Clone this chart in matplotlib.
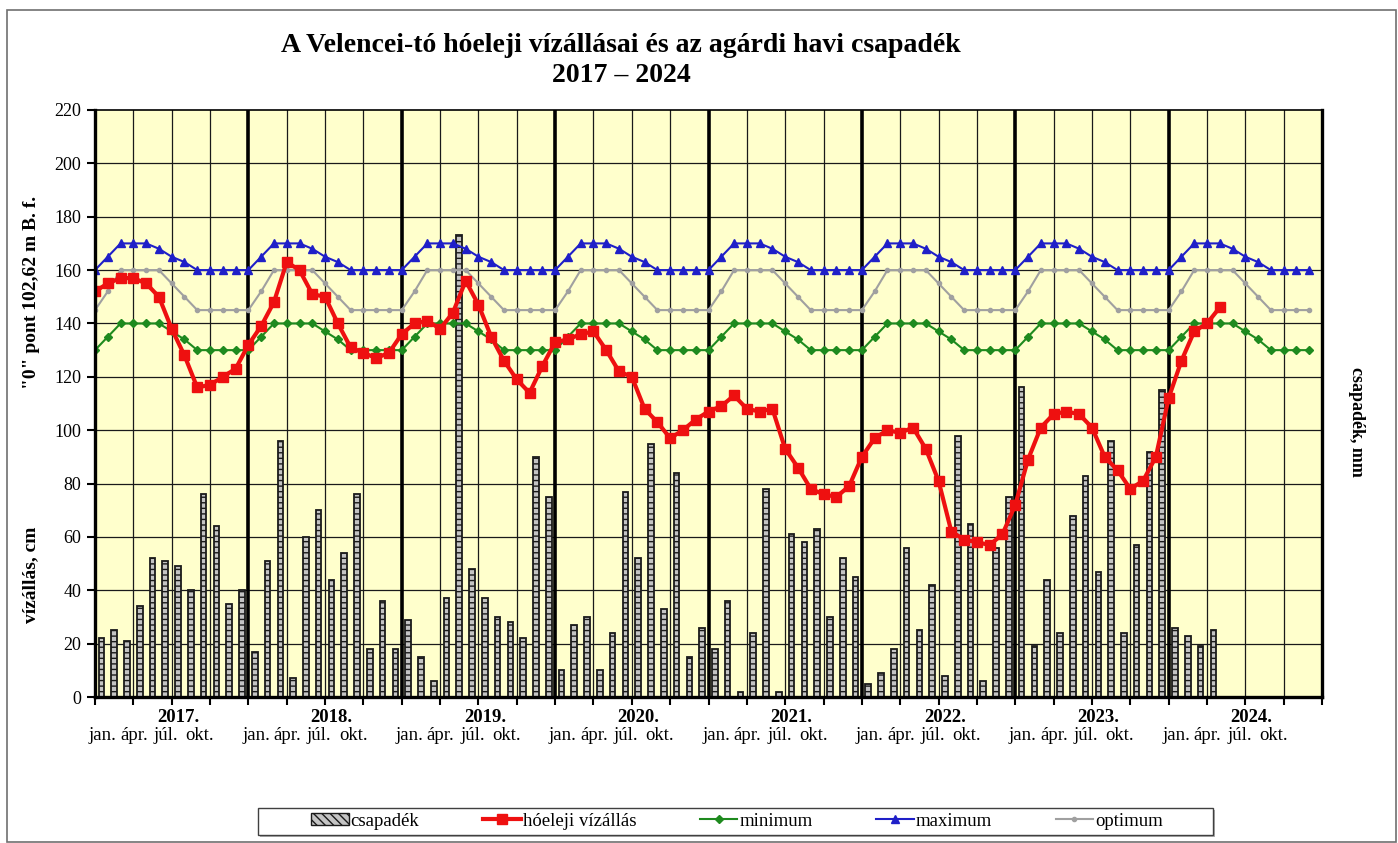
import matplotlib
matplotlib.use('Agg')
import matplotlib.pyplot as plt
import numpy as np
from matplotlib.patches import Patch, Rectangle
from matplotlib.lines import Line2D

# =============================================================================
# 1. DATA
# =============================================================================
years = ["2017.", "2018.", "2019.", "2020.", "2021.", "2022.", "2023.", "2024."]
month_labels = ["jan.", "ápr.", "júl.", "okt."]

# end-of-month lake level, cm (Jan 2017 - May 2024)
vizallas = [
    152, 155, 157, 157, 155, 150, 138, 128, 116, 117, 120, 123,   # 2017
    132, 139, 148, 163, 160, 151, 150, 140, 131, 129, 127, 129,   # 2018
    136, 140, 141, 138, 144, 156, 147, 135, 126, 119, 114, 124,   # 2019
    133, 134, 136, 137, 130, 122, 120, 108, 103, 97, 100, 104,    # 2020
    107, 109, 113, 108, 107, 108, 93, 86, 78, 76, 75, 79,         # 2021
    90, 97, 100, 99, 101, 93, 81, 62, 59, 58, 57, 61,             # 2022
    72, 89, 101, 106, 107, 106, 101, 90, 85, 78, 81, 90,          # 2023
    112, 126, 137, 140, 146,                                      # 2024
]

# monthly precipitation at Agárd, mm (Jan 2017 - Apr 2024)
csapadek = [
    22, 25, 21, 34, 52, 51, 49, 40, 76, 64, 35, 40,     # 2017
    17, 51, 96, 7, 60, 70, 44, 54, 76, 18, 36, 18,      # 2018
    29, 15, 6, 37, 173, 48, 37, 30, 28, 22, 90, 75,     # 2019
    10, 27, 30, 10, 24, 77, 52, 95, 33, 84, 15, 26,     # 2020
    18, 36, 2, 24, 78, 2, 61, 58, 63, 30, 52, 45,       # 2021
    5, 9, 18, 56, 25, 42, 8, 98, 65, 6, 56, 75,        # 2022
    116, 19, 44, 24, 68, 83, 47, 96, 24, 57, 92, 115,   # 2023
    26, 23, 19, 25,                                     # 2024
]

# regulation levels, same every year (Jan..Dec)
minimum_year = [130, 135, 140, 140, 140, 140, 137, 134, 130, 130, 130, 130]
maximum_year = [160, 165, 170, 170, 170, 168, 165, 163, 160, 160, 160, 160]
optimum_year = [145, 152, 160, 160, 160, 160, 155, 150, 145, 145, 145, 145]

minimum = np.tile(minimum_year, len(years))
maximum = np.tile(maximum_year, len(years))
optimum = np.tile(optimum_year, len(years))

# =============================================================================
# 2. PLOT
# =============================================================================
SERIF = "Liberation Serif"
BG = "#FFFFCC"
W, H = 1398, 843
n_months = 12 * len(years)

fig = plt.figure(figsize=(W / 100, H / 100), dpi=100)

# outer frame of the picture
fig.patches.append(Rectangle((7 / W, 1 / H), 1389 / W, 832 / H,
                             transform=fig.transFigure, fill=False,
                             edgecolor="#707070", linewidth=1.2))

ax = fig.add_axes([95 / W, 1 - 697 / H, 1227 / W, 587 / H])
ax.set_facecolor(BG)

# grid
for v in range(20, 220, 20):
    ax.axhline(v, color="#1A1A1A", linewidth=0.9, zorder=1)
for m in range(3, n_months, 3):
    lw = 2.6 if m % 12 == 0 else 0.9
    ax.axvline(m, color="#1A1A1A" if m % 12 else "black", linewidth=lw, zorder=1)

# bars (between the month positions)
xb = np.arange(len(csapadek)) + 0.5
ax.bar(xb, csapadek, width=0.44, facecolor="#C4C4C4", edgecolor="#1A1A1A",
       hatch="---", linewidth=1.3, zorder=2)

# lines (on the month positions)
xl = np.arange(n_months)
ax.plot(xl, optimum, color="#A0A0A0", linewidth=1.5, marker="o",
        markersize=3, zorder=3)
ax.plot(xl, minimum, color="#1E8A1E", linewidth=1.5, marker="D",
        markersize=4.5, zorder=3)
ax.plot(xl, maximum, color="#1F1FC8", linewidth=1.5, marker="^",
        markersize=6, zorder=3)
ax.plot(np.arange(len(vizallas)), vizallas, color="#EE1010", linewidth=3,
        marker="s", markersize=6.5, zorder=4)

ax.set_xlim(0, n_months)
ax.set_ylim(0, 220)

# axis styling
for side in ["left", "bottom", "right", "top"]:
    ax.spines[side].set_linewidth(2.4 if side != "top" else 1.2)
    ax.spines[side].set_zorder(5)

ax.set_yticks(range(0, 221, 20))
ax.tick_params(axis="y", direction="out", length=6, width=1.5, pad=4,
               labelsize=13)
for lab in ax.get_yticklabels():
    lab.set_fontfamily(SERIF)

ax.set_xticks(range(0, n_months + 1, 3))
ax.set_xticklabels([])
ax.tick_params(axis="x", direction="out", length=6, width=1.5)

# year and month labels under the axis
month_offsets = [0.6, 3.05, 5.55, 8.2]
for i, yr in enumerate(years):
    ax.text(12 * i + 6.5, -7.5, yr, ha="center", va="center",
            fontsize=13.5, fontweight="bold", family=SERIF, clip_on=False)
    for off, ml in zip(month_offsets, month_labels):
        ax.text(12 * i + off, -14.5, ml, ha="center", va="center",
                fontsize=13.5, family=SERIF, clip_on=False)

# title
fig.text(621 / W, 1 - 45 / H,
         "A Velencei-tó hóeleji vízállásai és az agárdi havi csapadék",
         ha="center", va="center", fontsize=20, fontweight="bold", family=SERIF)
fig.text(621 / W, 1 - 76 / H, "2017 – 2024",
         ha="center", va="center", fontsize=20, fontweight="bold", family=SERIF)

# axis titles
fig.text(31 / W, 1 - 575 / H, "vízállás, cm", rotation=90,
         ha="center", va="center", fontsize=14, fontweight="bold", family=SERIF)
fig.text(31 / W, 1 - 292 / H, "\"0\" pont 102,62 m B. f.", rotation=90,
         ha="center", va="center", fontsize=14, fontweight="bold", family=SERIF)
fig.text(1357 / W, 1 - 422 / H, "csapadék, mm", rotation=270,
         ha="center", va="center", fontsize=13, fontweight="bold", family=SERIF)

# legend box (drawn by hand, with a small shadow like the original)
fig.patches.append(Rectangle((260 / W, 1 - 837 / H), 955 / W, 27 / H,
                             transform=fig.transFigure, facecolor="#B0B0B0",
                             edgecolor="none"))
fig.patches.append(Rectangle((258 / W, 1 - 835 / H), 955 / W, 27 / H,
                             transform=fig.transFigure, facecolor="white",
                             edgecolor="#404040", linewidth=1.0))

legend_elements = [
    Patch(facecolor="#C4C4C4", edgecolor="#1A1A1A", hatch="\\\\\\\\",
          label="csapadék"),
    Line2D([0], [0], color="#EE1010", linewidth=3, marker="s", markersize=6.5,
           label="hóeleji vízállás"),
    Line2D([0], [0], color="#1E8A1E", linewidth=1.5, marker="D",
           markersize=4.5, label="minimum"),
    Line2D([0], [0], color="#1F1FC8", linewidth=1.5, marker="^",
           markersize=6, label="maximum"),
    Line2D([0], [0], color="#A0A0A0", linewidth=1.5, marker="o",
           markersize=3, label="optimum"),
]
leg = fig.legend(handles=legend_elements, loc="center", ncol=5,
                 bbox_to_anchor=(737 / W, 1 - 821 / H),
                 prop={"family": SERIF, "size": 13.5}, frameon=False,
                 handlelength=2.0, handleheight=0.6, handletextpad=0.1,
                 columnspacing=3.4, borderpad=0.2)

plt.savefig("out.png", dpi=100)
plt.close()
